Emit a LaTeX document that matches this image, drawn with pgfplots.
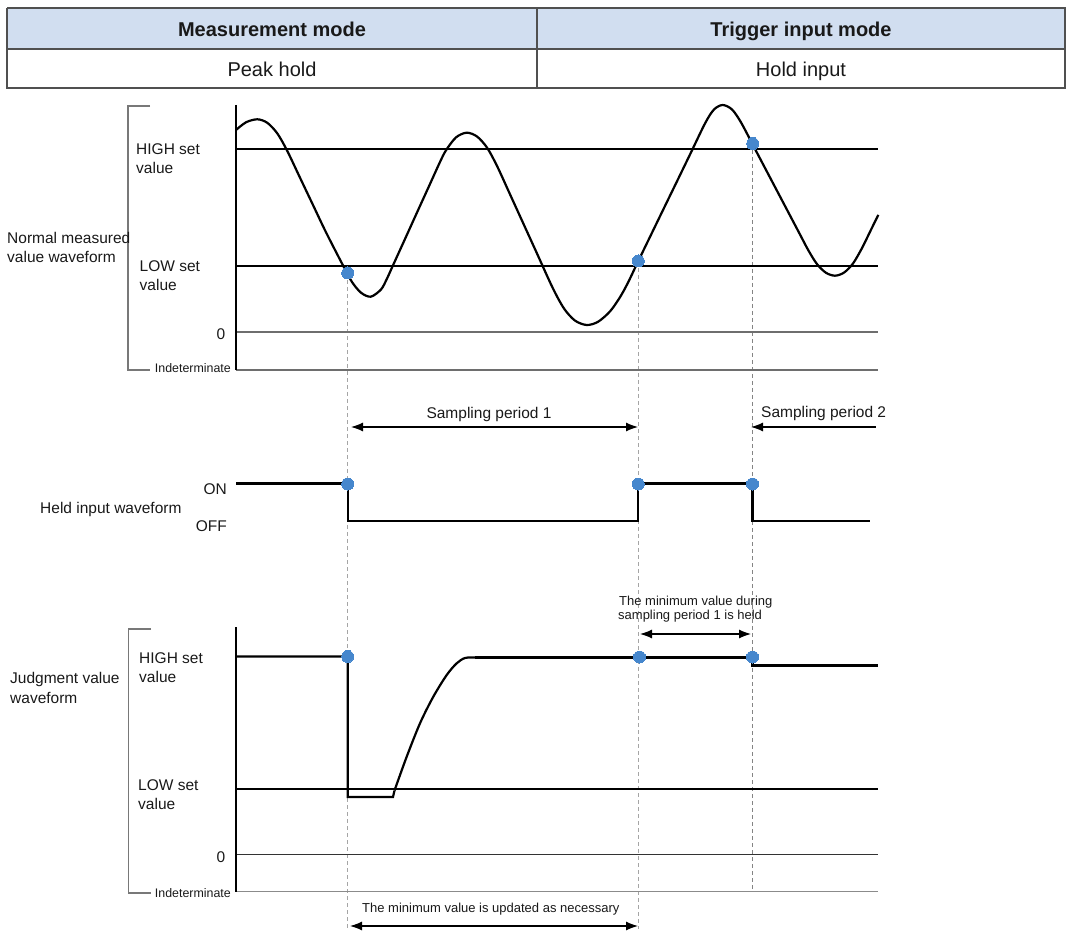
\documentclass[border=0pt]{standalone}
\usepackage{fontspec}
\setmainfont{Liberation Sans}
\usepackage{pgfplots}
\pgfplotsset{compat=1.18}
\usetikzlibrary{arrows.meta}
\definecolor{hdr}{RGB}{209,222,240}
\definecolor{dotb}{RGB}{70,135,205}
\definecolor{bord}{RGB}{80,80,80}
\definecolor{dashc}{RGB}{165,165,165}
\definecolor{refg}{RGB}{110,110,110}
\definecolor{brk}{RGB}{120,120,120}
\definecolor{txt}{RGB}{25,25,25}
\newcommand{\fs}[1]{\fontsize{#1}{#1}\selectfont}
\tikzset{arr/.style={line width=1.2pt, {Latex[length=12pt,width=9pt]}-{Latex[length=12pt,width=9pt]}},
 larr/.style={line width=1.2pt, {Latex[length=12pt,width=9pt]}-}}
\begin{document}
\begin{tikzpicture}
\begin{axis}[hide axis, scale only axis, width=1066pt, height=929pt,
  xmin=0, xmax=1066, ymin=0, ymax=929, y dir=reverse, clip=false]
\path (axis cs:0,0) rectangle (axis cs:1066,929);
% ---------- table ----------
\addplot[fill=hdr, draw=none] coordinates {(7,8) (1065,8) (1065,49) (7,49) (7,8)};
\addplot[bord, line width=1.5pt] coordinates {(7,8) (1065,8) (1065,88) (7,88) (7,8)};
\addplot[bord, line width=1.3pt] coordinates {(7,49) (1065,49)};
\addplot[bord, line width=1.3pt] coordinates {(537,8) (537,88)};
\node[txt, font=\fs{20}\bfseries, anchor=mid] at (axis cs:272,34) {Measurement mode};
\node[txt, font=\fs{20}\bfseries, anchor=mid] at (axis cs:801,34) {Trigger input mode};
\node[txt, font=\fs{20}, anchor=mid] at (axis cs:272,73.5) {Peak hold};
\node[txt, font=\fs{20}, anchor=mid] at (axis cs:801,73.5) {Hold input};
% ---------- dashed guides ----------
\addplot[dashc, line width=0.9pt, dash pattern=on 4pt off 3pt] coordinates {(347.7,273) (347.7,929)};
\addplot[dashc, line width=0.9pt, dash pattern=on 4pt off 3pt] coordinates {(638.3,261) (638.3,929)};
\addplot[dashc!80!black, line width=0.9pt, dash pattern=on 4pt off 3pt] coordinates {(752.5,143) (752.5,889)};
% ---------- top chart ----------
\addplot[brk, line width=1.2pt] coordinates {(150,106) (128,106) (128,370) (150,370)};
\addplot[black, line width=1.2pt] coordinates {(236,149) (878,149)};
\addplot[black, line width=1.2pt] coordinates {(236,266) (878,266)};
\addplot[refg, line width=1.3pt] coordinates {(236,332) (878,332)};
\addplot[refg, line width=1.5pt] coordinates {(236,370) (878,370)};
\addplot[black, line width=1.6pt] coordinates {(236,105) (236,370)};
\addplot[black, line width=2.2pt, smooth] coordinates {
(236,130) (246,122.3) (257.3,119.3) (267.3,122.8) (277.3,133.4) (287.1,150.6)
(300,177.7) (313,205) (326,232.3) (343.3,266) (352,282) (361,292.7) (370.7,296.7)
(381,289.5) (386.8,279) (392.7,266) (405,239) (418,210.3) (430,184) (439.9,162.2)
(446,150.3) (456,137.4) (466.7,132.7) (477,136.5) (487,147.6) (497,165.9)
(510,194.3) (523,222.8) (536,251.3) (552.6,287.7) (564,308.5) (575,320.6)
(586.7,325) (598,321.8) (610,311.4) (620,297.2) (628,282.6) (638.3,261)
(651,234.8) (664,208) (677,181.3) (690,154.5) (705.3,122.9) (714,109.5)
(722.7,105) (732,109.5) (741,122.4) (755,149) (770,177.5) (785,206) (800,234.5)
(808.4,250.4) (817,264.1) (826,272.8) (835,275.7) (844,272.6) (853,263.5)
(862,248.1) (870,231.8) (878.3,214.9)};
\addplot[only marks, mark=*, mark size=6pt, mark options={fill=dotb, draw=dotb, line width=0pt}] coordinates {(347.7,273) (638.3,261) (752.7,143.5)};
\node[txt, font=\fs{15.5}, anchor=mid west, inner sep=0pt] at (axis cs:136,152) {HIGH set};
\node[txt, font=\fs{15.5}, anchor=mid west, inner sep=0pt] at (axis cs:136,171) {value};
\node[txt, font=\fs{15.5}, anchor=mid west, inner sep=0pt] at (axis cs:139.5,269) {LOW set};
\node[txt, font=\fs{15.5}, anchor=mid west, inner sep=0pt] at (axis cs:139.5,288) {value};
\node[txt, font=\fs{15.5}, anchor=mid] at (axis cs:221,337) {0};
\node[txt, font=\fs{12.4}, anchor=mid east, inner sep=0pt] at (axis cs:231,370) {Indeterminate};
\node[txt, font=\fs{15.5}, anchor=mid west, inner sep=0pt] at (axis cs:7,241) {Normal measured};
\node[txt, font=\fs{15.5}, anchor=mid west, inner sep=0pt] at (axis cs:7,260) {value waveform};
% ---------- sampling arrows ----------
\addplot[arr] coordinates {(351,427) (638,427)};
\node[txt, font=\fs{15.5}, anchor=mid] at (axis cs:489,416) {Sampling period 1};
\addplot[larr] coordinates {(751,427) (876,427)};
\node[txt, font=\fs{15.5}, anchor=mid west, inner sep=0pt] at (axis cs:761,415) {Sampling period 2};
% ---------- held input ----------
\addplot[black, line width=2.3pt] coordinates {(236,483.5) (347.7,483.5) (347.7,521) (638.3,521) (638.3,483.5) (752.5,483.5) (752.5,521) (870,521)};
\addplot[only marks, mark=*, mark size=6pt, mark options={fill=dotb, draw=dotb, line width=0pt}] coordinates {(347.7,484) (638.3,484) (752.5,484)};
\node[txt, font=\fs{15.5}, anchor=mid east, inner sep=0pt] at (axis cs:227,492) {ON};
\node[txt, font=\fs{15.5}, anchor=mid east, inner sep=0pt] at (axis cs:227,529) {OFF};
\node[txt, font=\fs{15.5}, anchor=mid west, inner sep=0pt] at (axis cs:40,511) {Held input waveform};
% ---------- judgment chart ----------
\addplot[brk, line width=1.2pt] coordinates {(151,629) (128.5,629) (128.5,893) (151,893)};
\addplot[black, line width=1.2pt] coordinates {(236,789) (878,789)};
\addplot[black!80, line width=1.3pt] coordinates {(236,854.5) (878,854.5)};
\addplot[refg!80, line width=1.6pt] coordinates {(236,891.5) (878,891.5)};
\addplot[black, line width=1.6pt] coordinates {(236,627) (236,891.5)};
\addplot[black, line width=2.2pt] coordinates {(236,656.5) (347.7,656.5) (347.7,797) (393,797) (394.5,790.5)};
\addplot[black, line width=2.2pt, smooth] coordinates {(394.5,790.5) (406.7,756.7) (420,723.3) (433.3,696.7) (446.7,675) (456.7,663.3) (465,658) (475,657.5)};
\addplot[black, line width=2.2pt] coordinates {(475,657.5) (752.5,657.5) (752.5,665.5) (878,665.5)};
\addplot[only marks, mark=*, mark size=6pt, mark options={fill=dotb, draw=dotb, line width=0pt}] coordinates {(347.7,656.5) (639.5,657) (752.5,657)};
\node[txt, font=\fs{15.5}, anchor=mid west, inner sep=0pt] at (axis cs:139,660.5) {HIGH set};
\node[txt, font=\fs{15.5}, anchor=mid west, inner sep=0pt] at (axis cs:139,680) {value};
\node[txt, font=\fs{15.5}, anchor=mid west, inner sep=0pt] at (axis cs:138,787.5) {LOW set};
\node[txt, font=\fs{15.5}, anchor=mid west, inner sep=0pt] at (axis cs:138,806.5) {value};
\node[txt, font=\fs{15.5}, anchor=mid] at (axis cs:221,860) {0};
\node[txt, font=\fs{12.4}, anchor=mid east, inner sep=0pt] at (axis cs:231,894.5) {Indeterminate};
\node[txt, font=\fs{15.5}, anchor=mid west, inner sep=0pt] at (axis cs:10,681) {Judgment value};
\node[txt, font=\fs{15.5}, anchor=mid west, inner sep=0pt] at (axis cs:10,700.5) {waveform};
% annotations
\node[txt, font=\fs{13}, anchor=mid west, inner sep=0pt] at (axis cs:619,602.5) {The minimum value during};
\node[txt, font=\fs{13}, anchor=mid west, inner sep=0pt] at (axis cs:618,617) {sampling period 1 is held};
\addplot[arr] coordinates {(640,634) (751,634)};
\node[txt, font=\fs{13}, anchor=mid west, inner sep=0pt] at (axis cs:362,910) {The minimum value is updated as necessary};
\addplot[arr] coordinates {(350,926) (638,926)};
\end{axis}
\end{tikzpicture}
\end{document}
